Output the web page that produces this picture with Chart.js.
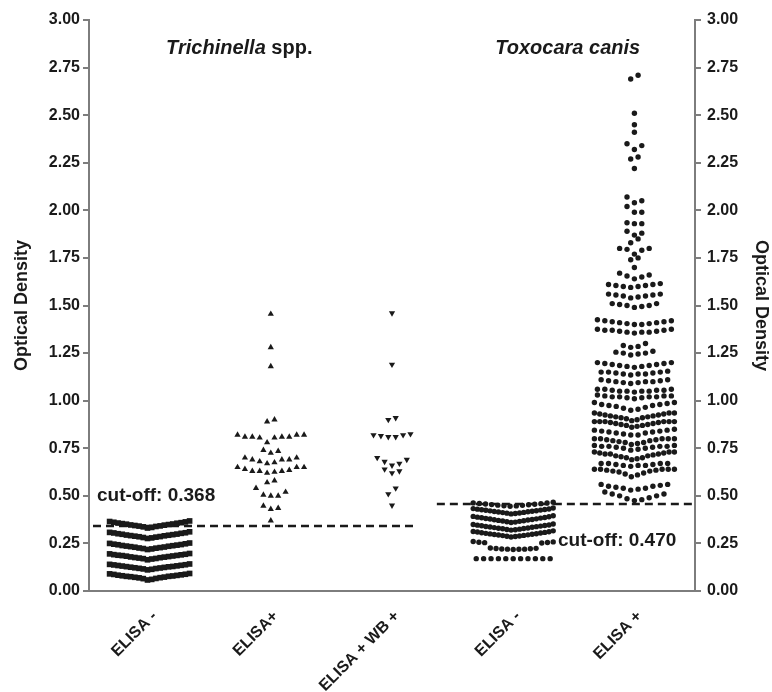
<!DOCTYPE html>
<html>
<head>
<meta charset="utf-8">
<script src="https://cdn.jsdelivr.net/npm/chart.js@4.4.0/dist/chart.umd.min.js"></script>
<style>
  html, body { margin: 0; padding: 0; background: #fff; }
  #wrap { width: 772px; height: 692px; }
</style>
</head>
<body>
<div id="wrap"><canvas id="chart"></canvas></div>
<script>
// x-axis categories (first three: Trichinella, last two: Toxocara)
const groups = ['ELISA -', 'ELISA+', 'ELISA + WB +', 'ELISA -', 'ELISA +'];
const yTicks = [0, 0.25, 0.5, 0.75, 1, 1.25, 1.5, 1.75, 2, 2.25, 2.5, 2.75, 3];

// optical density readings, one inner list per horizontal row of the scatter
const trichNeg = [
    [0.058, 0.061, 0.065, 0.066, 0.069, 0.07, 0.072, 0.073, 0.075, 0.077, 0.077, 0.079, 0.08, 0.082, 0.083, 0.085, 0.087, 0.088, 0.09, 0.092],
    [0.111, 0.114, 0.116, 0.118, 0.119, 0.121, 0.122, 0.124, 0.125, 0.127, 0.128, 0.129, 0.131, 0.132, 0.134, 0.135, 0.137, 0.138, 0.14, 0.142],
    [0.164, 0.168, 0.17, 0.171, 0.173, 0.175, 0.176, 0.178, 0.179, 0.181, 0.183, 0.184, 0.186, 0.187, 0.188, 0.19, 0.191, 0.193, 0.195, 0.197],
    [0.218, 0.221, 0.223, 0.225, 0.226, 0.228, 0.23, 0.231, 0.233, 0.235, 0.236, 0.238, 0.239, 0.241, 0.243, 0.244, 0.246, 0.248, 0.25, 0.252],
    [0.276, 0.279, 0.281, 0.283, 0.285, 0.286, 0.288, 0.29, 0.291, 0.293, 0.294, 0.296, 0.298, 0.299, 0.301, 0.303, 0.305, 0.306, 0.308, 0.311],
    [0.331, 0.334, 0.337, 0.339, 0.341, 0.342, 0.344, 0.346, 0.347, 0.349, 0.351, 0.352, 0.354, 0.356, 0.357, 0.359, 0.361, 0.363, 0.365, 0.368]
];
const trichPos = [
    [0.37],
    [0.43, 0.435, 0.447],
    [0.50, 0.50, 0.505, 0.52, 0.54],
    [0.57, 0.58],
    [0.62, 0.625, 0.63, 0.63, 0.63, 0.635, 0.64, 0.65, 0.65, 0.65],
    [0.67, 0.675, 0.68, 0.69, 0.69, 0.69, 0.70, 0.70],
    [0.725, 0.735, 0.74],
    [0.78, 0.805, 0.805, 0.81, 0.81, 0.81, 0.81, 0.82, 0.82, 0.82],
    [0.89, 0.90],
    [1.18], [1.28], [1.455]
];
const trichWb = [
    [0.45],
    [0.51, 0.54],
    [0.62, 0.63, 0.64],
    [0.66, 0.67, 0.68, 0.69, 0.70],
    [0.81, 0.81, 0.815, 0.82, 0.82, 0.825],
    [0.90, 0.91],
    [1.19], [1.46]
];
const toxoNeg = [
    [0.17, 0.17, 0.17, 0.17, 0.17, 0.17, 0.17, 0.17, 0.17, 0.17, 0.17],
    [0.218, 0.219, 0.22, 0.22, 0.221, 0.222, 0.223, 0.224, 0.226, 0.252, 0.254, 0.255, 0.256, 0.258, 0.26],
    [0.284, 0.286, 0.288, 0.289, 0.291, 0.292, 0.294, 0.295, 0.297, 0.298, 0.3, 0.301, 0.303, 0.305, 0.306, 0.308, 0.31, 0.311, 0.313, 0.316],
    [0.32, 0.322, 0.323, 0.325, 0.327, 0.328, 0.33, 0.331, 0.333, 0.335, 0.336, 0.338, 0.339, 0.341, 0.343, 0.344, 0.346, 0.347, 0.349, 0.352],
    [0.36, 0.362, 0.364, 0.366, 0.368, 0.369, 0.371, 0.373, 0.374, 0.376, 0.378, 0.379, 0.381, 0.383, 0.385, 0.386, 0.388, 0.39, 0.392, 0.395],
    [0.405, 0.407, 0.409, 0.41, 0.412, 0.413, 0.415, 0.416, 0.418, 0.419, 0.421, 0.422, 0.424, 0.425, 0.427, 0.428, 0.43, 0.431, 0.433, 0.436],
    [0.445, 0.447, 0.448, 0.45, 0.451, 0.453, 0.454, 0.456, 0.457, 0.459, 0.46, 0.462, 0.463, 0.466]
];
const toxoPos = [
    [0.475, 0.48, 0.485, 0.49, 0.50, 0.50, 0.51, 0.51, 0.52],
    [0.53, 0.535, 0.54, 0.54, 0.545, 0.55, 0.55, 0.555, 0.56, 0.56],
    [0.60, 0.61, 0.615, 0.62, 0.625, 0.63, 0.63, 0.635, 0.635, 0.64, 0.64, 0.64, 0.64, 0.64],
    [0.655, 0.66, 0.66, 0.66, 0.665, 0.665, 0.67, 0.67, 0.67, 0.67],
    [0.69, 0.695, 0.70, 0.70, 0.705, 0.71, 0.71, 0.715, 0.72, 0.72, 0.72, 0.725, 0.725, 0.73, 0.73, 0.73],
    [0.74, 0.745, 0.75, 0.75, 0.755, 0.755, 0.76, 0.76, 0.76, 0.76, 0.765, 0.765],
    [0.77, 0.775, 0.78, 0.78, 0.785, 0.79, 0.79, 0.795, 0.795, 0.80, 0.80, 0.80, 0.80, 0.80],
    [0.82, 0.82, 0.825, 0.83, 0.83, 0.835, 0.835, 0.84, 0.84, 0.845, 0.845, 0.85],
    [0.86, 0.865, 0.87, 0.87, 0.875, 0.875, 0.88, 0.88, 0.885, 0.885, 0.89, 0.89, 0.89, 0.89, 0.89, 0.89],
    [0.895, 0.90, 0.905, 0.91, 0.91, 0.915, 0.915, 0.92, 0.92, 0.925, 0.925, 0.93, 0.93, 0.935, 0.935, 0.935],
    [0.95, 0.955, 0.96, 0.965, 0.97, 0.975, 0.975, 0.98, 0.98, 0.985, 0.99, 0.99],
    [1.01, 1.015, 1.015, 1.02, 1.02, 1.02, 1.02, 1.025, 1.025, 1.025, 1.03],
    [1.045, 1.05, 1.05, 1.05, 1.05, 1.055, 1.055, 1.055, 1.06, 1.06, 1.06],
    [1.09, 1.095, 1.095, 1.10, 1.10, 1.10, 1.105, 1.105, 1.11, 1.11],
    [1.135, 1.14, 1.14, 1.14, 1.145, 1.145, 1.15, 1.15, 1.15, 1.155],
    [1.175, 1.18, 1.18, 1.185, 1.185, 1.19, 1.19, 1.195, 1.195, 1.20, 1.20],
    [1.24, 1.245, 1.25, 1.25, 1.255, 1.26],
    [1.28, 1.285, 1.29, 1.30],
    [1.355, 1.36, 1.36, 1.36, 1.365, 1.365, 1.37, 1.37, 1.37, 1.375, 1.375],
    [1.40, 1.40, 1.405, 1.405, 1.41, 1.41, 1.415, 1.415, 1.42, 1.42, 1.425],
    [1.49, 1.495, 1.50, 1.50, 1.505, 1.51, 1.51],
    [1.54, 1.545, 1.55, 1.55, 1.555, 1.555, 1.56, 1.56],
    [1.595, 1.60, 1.60, 1.605, 1.605, 1.61, 1.61, 1.615],
    [1.64, 1.65, 1.655, 1.66, 1.67],
    [1.70],
    [1.74, 1.75],
    [1.77, 1.79, 1.795, 1.80, 1.80],
    [1.83, 1.85],
    [1.87, 1.88, 1.89],
    [1.93, 1.93, 1.935],
    [1.99, 1.99, 2.02],
    [2.04, 2.05, 2.07],
    [2.22],
    [2.27, 2.28],
    [2.32, 2.34, 2.35],
    [2.41], [2.45], [2.51],
    [2.69, 2.71]
];

// cut-off lines (drawn level) and their labels
const trichCutoff = 0.342;
const toxoCutoff = 0.457;
const trichCutoffText = 'cut-off: 0.368';
const toxoCutoffText = 'cut-off: 0.470';

const FONT = "'Liberation Sans', Arial, sans-serif";
const INK = '#1a1a1a';
const AXIS = '#7d7d7d';
const DX = 0.061;     // gap between neighbours in a row (x units)
const MAX_W = 0.66;   // widest a row may get (x units)

// spread each row sideways, lowest values in the middle
function swarm(rows, slot) {
    const pts = [];
    rows.forEach(row => {
        const vals = row.slice().sort((a, b) => a - b);
        const n = vals.length;
        const step = n > 1 ? Math.min(DX, MAX_W / (n - 1)) : 0;
        vals.forEach((v, i) => {
            let k;
            if (n % 2) k = Math.ceil(i / 2) * (i % 2 ? 1 : -1);
            else k = (Math.floor(i / 2) + 0.5) * (i % 2 ? 1 : -1);
            pts.push({ x: slot + k * step, y: v });
        });
    });
    return pts;
}

function dots(data, style, radius, rotation) {
    return {
        data: data,
        pointStyle: style,
        pointRadius: radius,
        pointRotation: rotation || 0,
        pointBackgroundColor: INK,
        pointBorderColor: INK,
        pointBorderWidth: 0,
        showLine: false
    };
}

function cutLine(y, x0, x1) {
    return {
        data: [{ x: x0, y: y }, { x: x1, y: y }],
        showLine: true,
        borderColor: INK,
        borderWidth: 2.5,
        borderDash: [8, 5],
        pointRadius: 0
    };
}

// free text on the plot
const notesPlugin = {
    id: 'notes',
    afterDatasetsDraw(chart) {
        const { ctx, scales: { x, y } } = chart;
        ctx.save();
        ctx.fillStyle = INK;
        ctx.textBaseline = 'middle';

        // group titles
        const ty = y.getPixelForValue(2.85);
        ctx.font = `italic bold 20px ${FONT}`;
        const w1 = ctx.measureText('Trichinella').width;
        ctx.font = `bold 20px ${FONT}`;
        const w2 = ctx.measureText(' spp.').width;
        let left = x.getPixelForValue(1.74) - (w1 + w2) / 2;
        ctx.textAlign = 'left';
        ctx.font = `italic bold 20px ${FONT}`;
        ctx.fillText('Trichinella', left, ty);
        ctx.font = `bold 20px ${FONT}`;
        ctx.fillText(' spp.', left + w1, ty);

        ctx.textAlign = 'center';
        ctx.font = `italic bold 20px ${FONT}`;
        ctx.fillText('Toxocara canis', x.getPixelForValue(4.45), ty);

        // cut-off labels
        ctx.textAlign = 'left';
        ctx.font = `bold 19px ${FONT}`;
        ctx.fillText(trichCutoffText, x.getPixelForValue(0.566), y.getPixelForValue(0.50));
        ctx.fillText(toxoCutoffText, x.getPixelForValue(4.37), y.getPixelForValue(0.263));
        ctx.restore();
    }
};

function yAxis(side, width, titlePad) {
    return {
        position: side,
        min: 0,
        max: 3,
        afterBuildTicks: s => { s.ticks = yTicks.map(v => ({ value: v })); },
        afterFit: s => { s.width = width; },
        grid: { drawOnChartArea: false, color: AXIS, lineWidth: 2, tickLength: 6 },
        border: { color: AXIS, width: 2 },
        ticks: {
            callback: v => v.toFixed(2),
            color: INK,
            padding: side === 'left' ? 3 : 6,
            font: { family: FONT, size: 16, weight: 'bold' }
        },
        title: {
            display: true,
            text: 'Optical Density',
            color: INK,
            padding: { top: titlePad, bottom: 0 },
            font: { family: FONT, size: 18, weight: 'bold' }
        }
    };
}

new Chart(document.getElementById('chart'), {
    type: 'scatter',
    data: {
        datasets: [
            dots(swarm(trichNeg, 1), 'rect', 4),
            dots(swarm(trichPos, 2), 'triangle', 3.6),
            dots(swarm(trichWb, 3), 'triangle', 3.6, 180),
            dots(swarm(toxoNeg, 4), 'circle', 2.7),
            dots(swarm(toxoPos, 5), 'circle', 2.7),
            cutLine(trichCutoff, 0.533, 3.21),
            cutLine(toxoCutoff, 3.37, 5.48)
        ]
    },
    options: {
        responsive: true,
        maintainAspectRatio: false,
        animation: false,
        layout: { padding: { top: 20, right: 0, bottom: 0, left: 0 } },
        plugins: { legend: { display: false }, tooltip: { enabled: false } },
        scales: {
            x: {
                type: 'linear',
                min: 0.5,
                max: 5.5,
                afterBuildTicks: s => { s.ticks = groups.map((g, i) => ({ value: i + 1 })); },
                afterFit: s => { s.height = 101; },
                grid: { display: false },
                border: { color: AXIS, width: 2 },
                ticks: {
                    callback: v => groups[v - 1],
                    autoSkip: false,
                    minRotation: 45,
                    maxRotation: 45,
                    padding: 8,
                    labelOffset: 5,
                    color: INK,
                    font: { family: FONT, size: 16, weight: 'bold' }
                }
            },
            y: yAxis('left', 89, 11),
            y2: yAxis('right', 77, 0)
        }
    },
    plugins: [notesPlugin]
});
</script>
</body>
</html>
